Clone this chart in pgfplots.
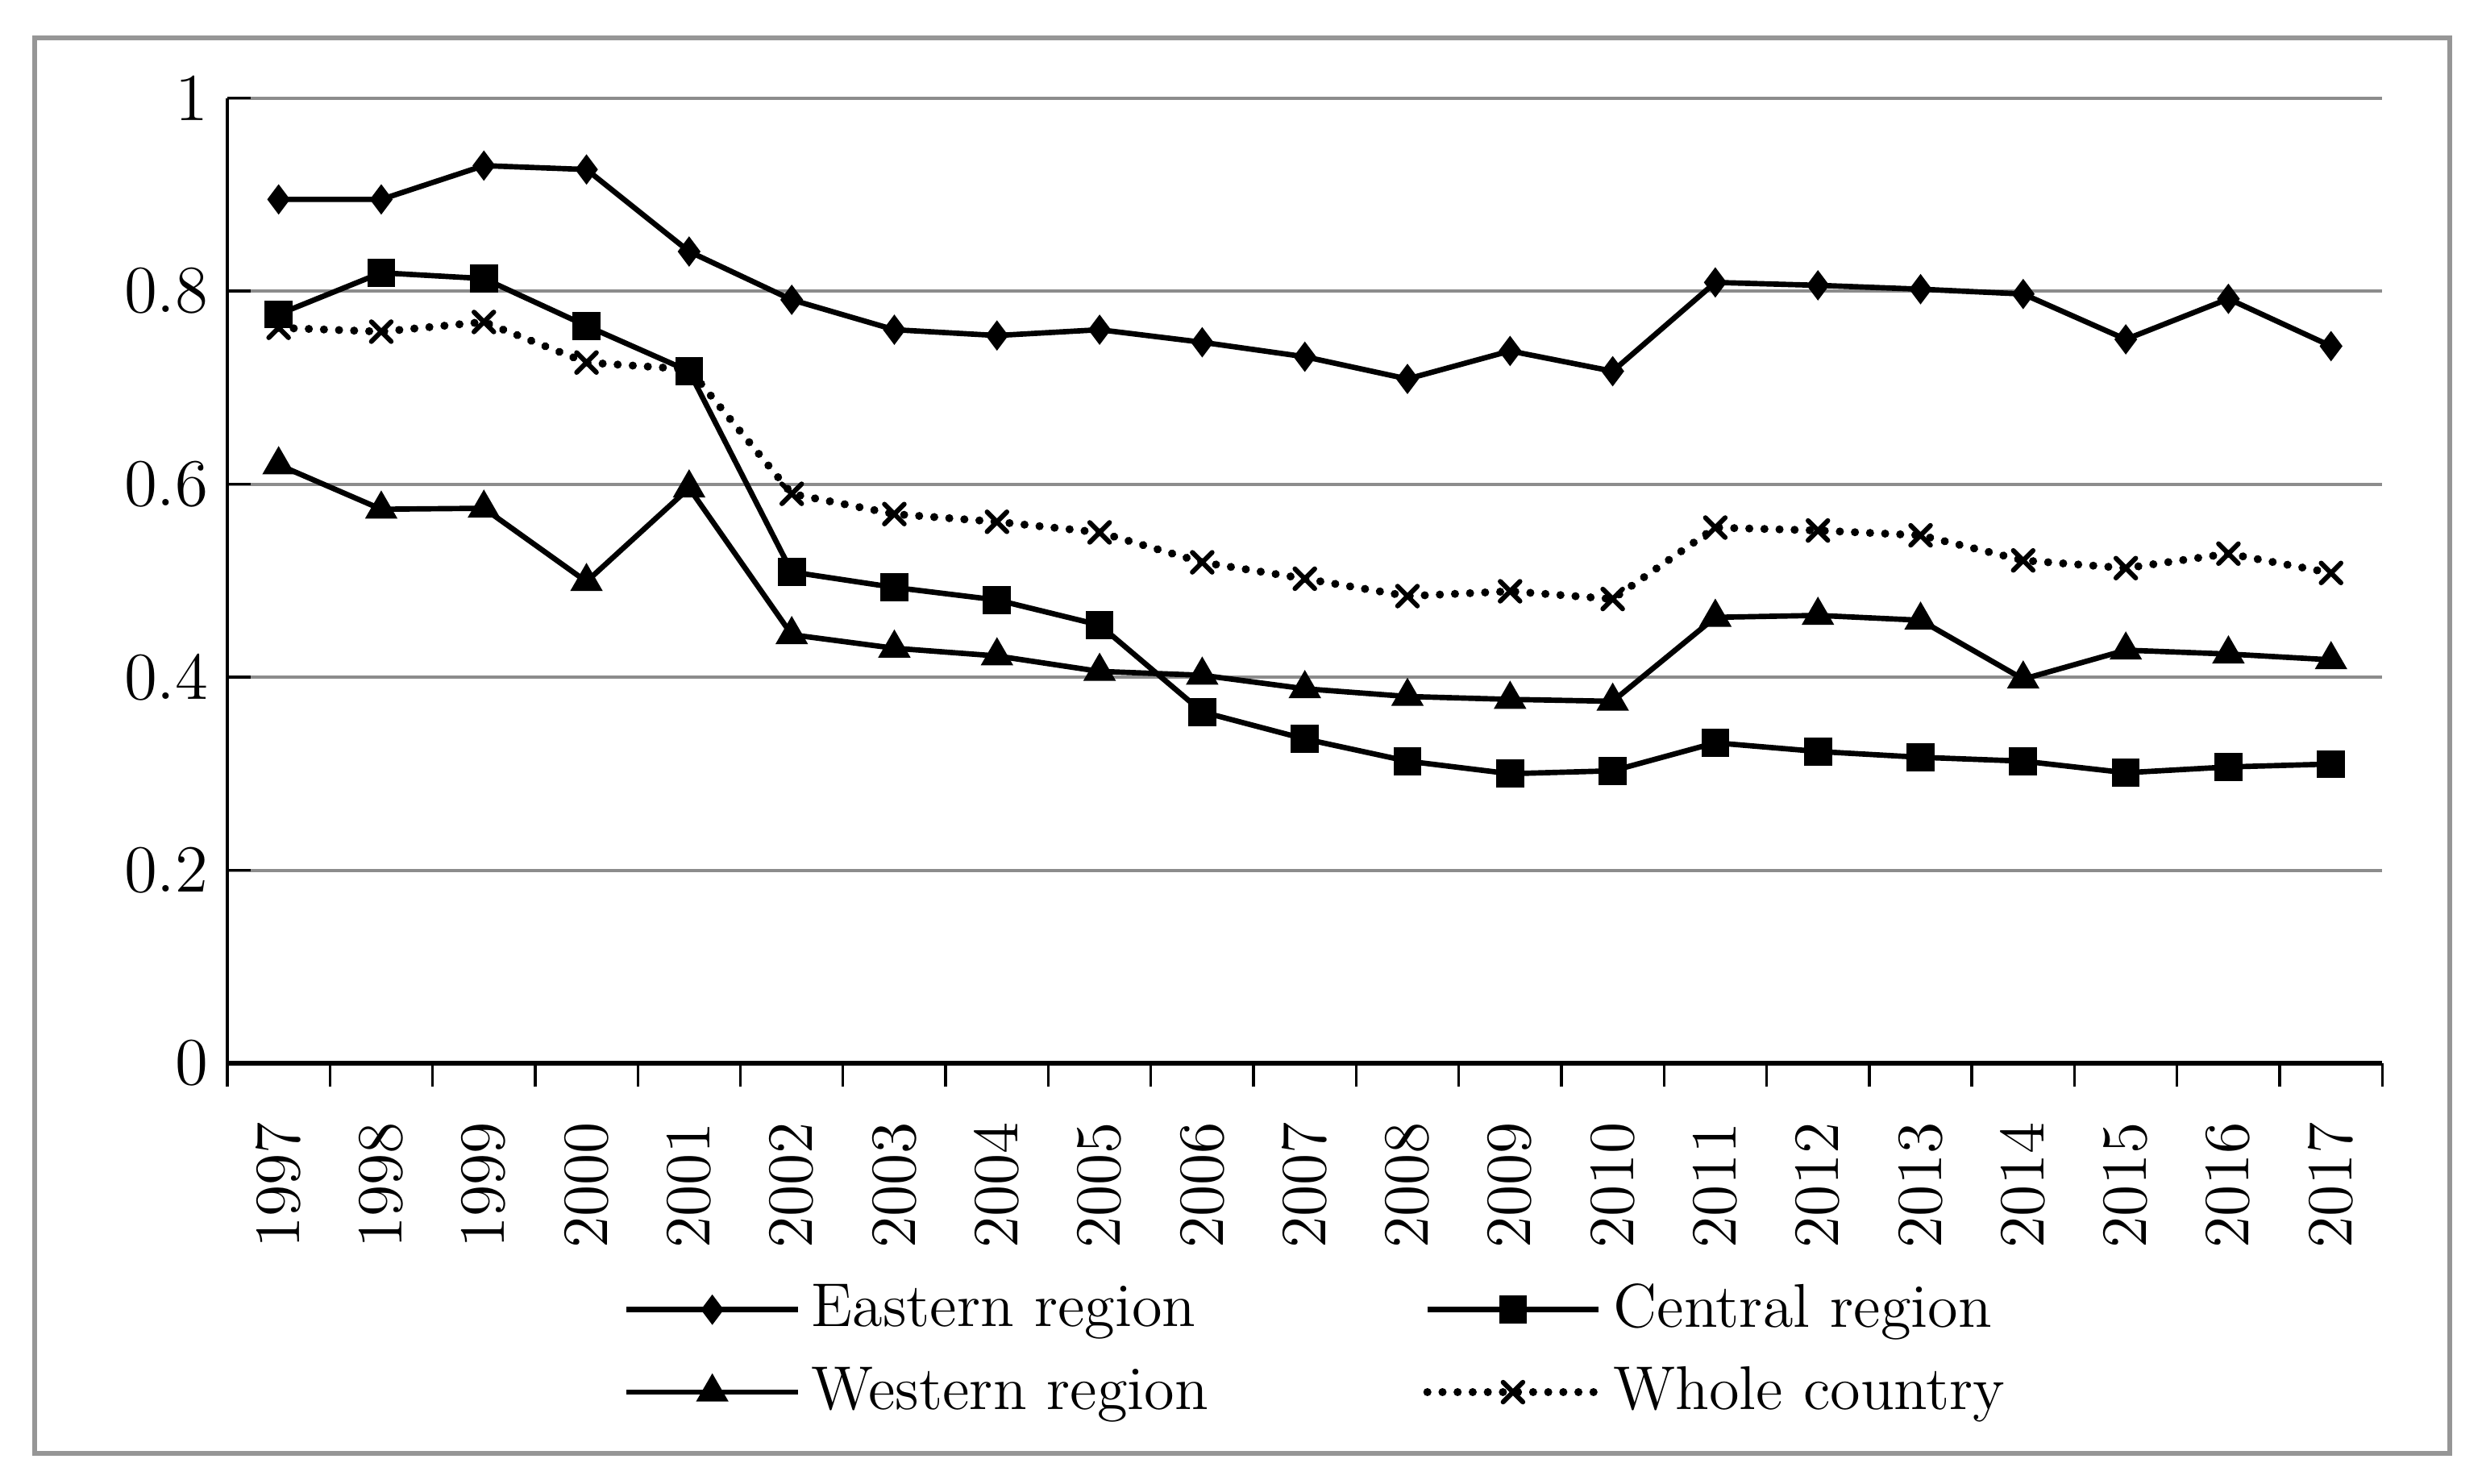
\documentclass[border=0pt]{standalone}
\usepackage{pgfplots}
\pgfplotsset{compat=1.18}
\definecolor{gridgray}{RGB}{140,140,140}
\definecolor{framegray}{RGB}{150,150,150}

\begin{document}
\begin{tikzpicture}
% page and outer frame
\path (-42.3pt,-78.15pt) rectangle (419.55pt,197.85pt);
\draw[framegray, line width=1pt] (-35.85pt,-72.6pt) rectangle (413.55pt,190.8pt);
\begin{axis}[
    at={(0,0)}, anchor=south west,
    scale only axis,
    width=401pt, height=179.6pt,
    xmin=1996.5, xmax=2017.5,
    ymin=0, ymax=1,
    axis x line=bottom, axis y line=left,
    axis line style={-, black},
    x axis line style={line width=0.8pt},
    y axis line style={line width=0.6pt},
    xtick={1997,...,2017},
    minor xtick={1996.5,1997.5,...,2017.5},
    major x tick style={draw=none},
    minor x tick style={black, line width=0.5pt},
    xtick align=outside,
    minor tick length=4.4pt,
    ytick={0,0.2,0.4,0.6,0.8,1},
    yticklabels={0,0.2,0.4,0.6,0.8,1},
    ytick align=inside,
    major tick length=4.4pt,
    y tick style={black, line width=0.5pt},
    ymajorgrids,
    grid style={gridgray, line width=0.6pt},
    x tick label style={rotate=90, anchor=east, font=\fontsize{12.5}{14}\selectfont,
        /pgf/number format/1000 sep={}},
    xticklabel shift=3pt,
    y tick label style={font=\fontsize{12.5}{14}\selectfont},
    legend columns=2,
    legend cell align=left,
    legend style={at={(0.507,0)}, anchor=center, yshift=-53.5pt, draw=none,
        font=\fontsize{11.5}{13}\selectfont, row sep=1.8pt,
        /tikz/every even column/.append style={column sep=38pt}},
    legend image code/.code={
        \draw[mark repeat=2, mark phase=2, #1]
            plot coordinates {(0cm,0cm) (0.56cm,0cm) (1.12cm,0cm)};},
    every axis plot/.append style={black, line width=1pt},
]
\addplot[mark=diamond*, mark size=2pt, mark options={solid}] coordinates {
 (1997,0.895) (1998,0.895) (1999,0.930) (2000,0.926) (2001,0.841) (2002,0.791)
 (2003,0.760) (2004,0.754) (2005,0.760) (2006,0.747) (2007,0.732) (2008,0.709)
 (2009,0.738) (2010,0.717) (2011,0.809) (2012,0.806) (2013,0.802) (2014,0.797)
 (2015,0.750) (2016,0.792) (2017,0.743)};
\addplot[mark=square*, mark size=2.1pt, mark options={solid}] coordinates {
 (1997,0.776) (1998,0.819) (1999,0.813) (2000,0.764) (2001,0.717) (2002,0.509)
 (2003,0.493) (2004,0.480) (2005,0.454) (2006,0.364) (2007,0.336) (2008,0.313)
 (2009,0.300) (2010,0.303) (2011,0.332) (2012,0.323) (2013,0.317) (2014,0.313)
 (2015,0.301) (2016,0.307) (2017,0.310)};
\addplot[mark=triangle*, mark size=2.5pt, mark options={solid}] coordinates {
 (1997,0.620) (1998,0.574) (1999,0.575) (2000,0.499) (2001,0.596) (2002,0.444)
 (2003,0.430) (2004,0.422) (2005,0.406) (2006,0.402) (2007,0.388) (2008,0.380)
 (2009,0.377) (2010,0.375) (2011,0.462) (2012,0.464) (2013,0.459) (2014,0.398)
 (2015,0.428) (2016,0.424) (2017,0.418)};
\addplot[line cap=round, dash pattern=on 0.01pt off 2.8pt, line width=1.5pt,
    mark=x, mark size=2.6pt, mark options={solid, line width=0.9pt}] coordinates {
 (1997,0.762) (1998,0.758) (1999,0.768) (2000,0.726) (2001,0.719) (2002,0.590)
 (2003,0.569) (2004,0.561) (2005,0.550) (2006,0.519) (2007,0.502) (2008,0.484)
 (2009,0.489) (2010,0.481) (2011,0.555) (2012,0.552) (2013,0.547) (2014,0.521)
 (2015,0.513) (2016,0.528) (2017,0.508)};
\legend{Eastern region, Central region, Western region, Whole country}
\end{axis}
\end{tikzpicture}
\end{document}
